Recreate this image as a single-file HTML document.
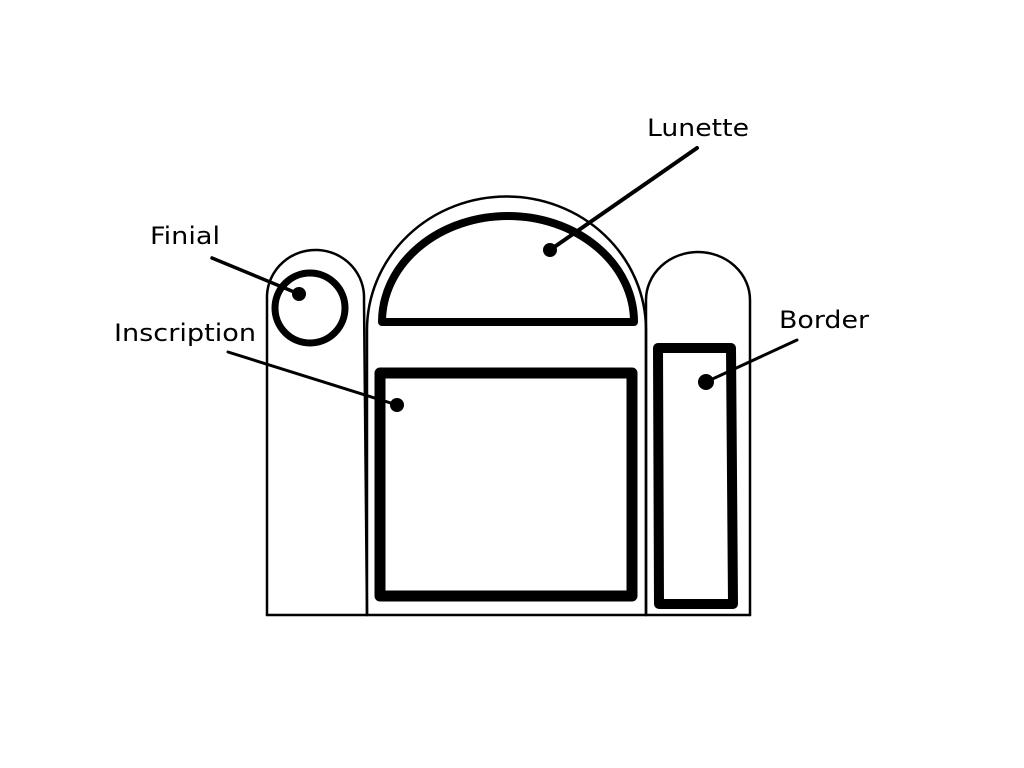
<!DOCTYPE html>
<html><head><style>body{margin:0;background:#fff}svg{display:block}</style></head><body>
<svg width="1024" height="768" viewBox="0 0 1024 768" xmlns="http://www.w3.org/2000/svg">
<rect width="1024" height="768" fill="#fff"/>
<g fill="none" stroke="#000" stroke-linejoin="round" stroke-linecap="round">
<path d="M267 615 L267 295 A48 47 0 0 1 364 300 L367 615" stroke-width="2.5"/>
<path d="M367 615 L367 330 A139 133 0 0 1 646 330 L646 615" stroke-width="2.5"/>
<path d="M646 615 L646 300 A52 48 0 0 1 750 300 L750 615" stroke-width="2.5"/>
<path d="M267 615 L750 615" stroke-width="2.5"/>
<path d="M382 322 A126 106 0 0 1 634 322 Z" stroke-width="8"/>
<rect x="380" y="373" width="252" height="223" stroke-width="11"/>
<path d="M658 348 L731 348 L733 604 L659 604 Z" stroke-width="10"/>
<circle cx="310" cy="308" r="35" stroke-width="7"/>
<path d="M212 258 L299 294" stroke-width="3.5"/>
<path d="M697 148 L550 250" stroke-width="4"/>
<path d="M228 352 L397 405" stroke-width="3"/>
<path d="M797 340 L706 382" stroke-width="3"/>
</g>
<g fill="#000">
<circle cx="299" cy="294" r="7"/>
<circle cx="550" cy="250" r="7"/>
<circle cx="397" cy="405" r="7"/>
<circle cx="706" cy="382" r="8"/>
</g>
<g font-family="DejaVu Sans, sans-serif" font-size="24" fill="#000" textLength="">
<text x="150" y="244" textLength="70" lengthAdjust="spacingAndGlyphs">Finial</text>
<text x="647" y="136" textLength="102" lengthAdjust="spacingAndGlyphs">Lunette</text>
<text x="114" y="341" textLength="142" lengthAdjust="spacingAndGlyphs">Inscription</text>
<text x="779" y="328" textLength="90" lengthAdjust="spacingAndGlyphs">Border</text>
</g>
</svg>
</body></html>
